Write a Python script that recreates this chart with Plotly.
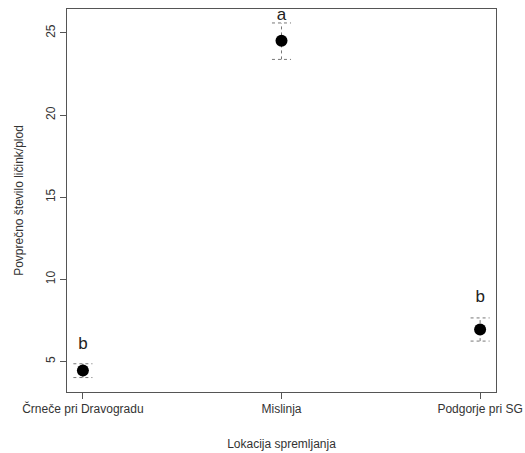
import plotly.graph_objects as go

categories = ["Črneče pri Dravogradu", "Mislinja", "Podgorje pri SG"]
means = [4.45, 24.53, 6.94]
upper = [4.86, 25.61, 7.65]
lower = [4.02, 23.39, 6.24]
letters = ["b", "a", "b"]
letter_y = [6.0, 26.05, 8.9]

xs = [1, 2, 3]
cap = 0.048

fig = go.Figure()

# dashed error bars
for x, lo, hi in zip(xs, lower, upper):
    fig.add_trace(go.Scatter(
        x=[x, x, None, x - cap, x + cap, None, x - cap, x + cap],
        y=[lo, hi, None, hi, hi, None, lo, lo],
        mode="lines", line=dict(color="#777777", width=1, dash="3px,3px"),
        hoverinfo="skip", showlegend=False))

fig.add_trace(go.Scatter(x=xs, y=means, mode="markers",
                         marker=dict(color="black", size=12),
                         showlegend=False))

fig.add_trace(go.Scatter(x=xs, y=letter_y, mode="text", text=letters,
                         textfont=dict(family="Liberation Sans, Arial", size=17, color="#222222"),
                         showlegend=False))

fig.update_layout(
    width=525, height=453,
    margin=dict(l=67, r=29, t=9, b=61),
    plot_bgcolor="white", paper_bgcolor="white",
    font=dict(family="Liberation Sans, Arial", size=12, color="#333333"),
)
fig.update_xaxes(
    range=[0.92, 3.08], tickvals=xs, ticktext=categories, automargin=False,
    showline=True, mirror=True, linecolor="#555555", linewidth=1,
    ticks="outside", ticklen=6, tickcolor="#555555",
    showgrid=False, zeroline=False,
    title=dict(text="Lokacija spremljanja", standoff=24, font=dict(size=12)),
)
fig.update_yaxes(
    range=[3.14, 26.46], tickvals=[5, 10, 15, 20, 25], automargin=False,
    showline=True, mirror=True, linecolor="#555555", linewidth=1,
    ticks="outside", ticklen=6, tickcolor="#555555", tickangle=-90,
    showgrid=False, zeroline=False,
    title=dict(text="Povprečno število ličink/plod", standoff=18, font=dict(size=12)),
)

fig.write_html("out.html")
